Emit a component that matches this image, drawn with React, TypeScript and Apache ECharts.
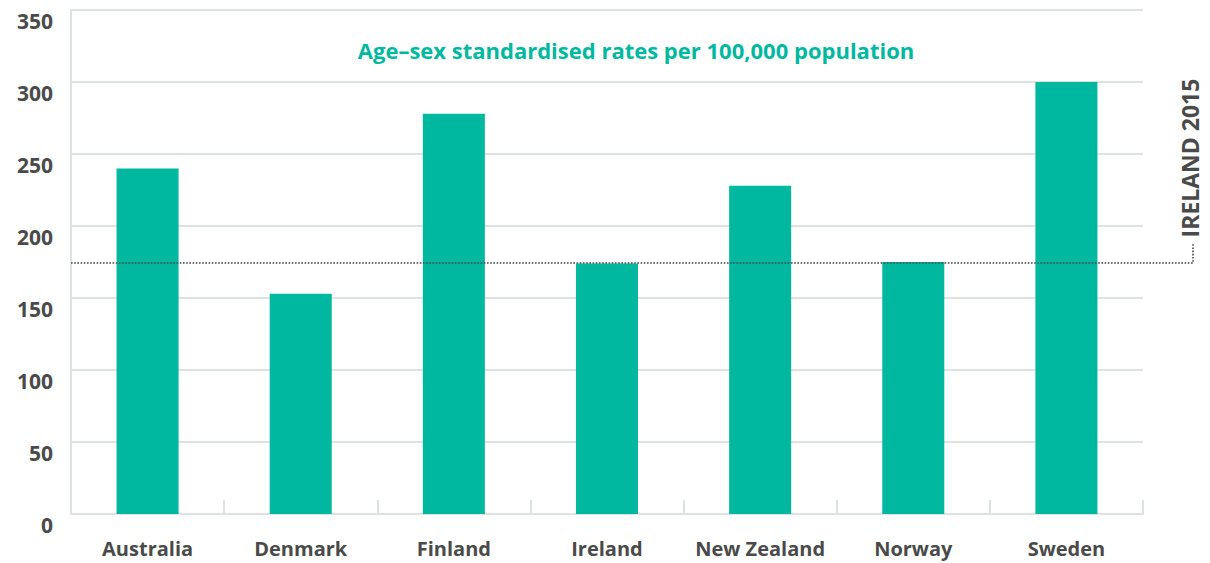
import React, { useEffect, useRef } from "react";
import * as echarts from "echarts";

const categories = ["Australia", "Denmark", "Finland", "Ireland", "New Zealand", "Norway", "Sweden"];
const rates = [240, 153, 278, 174, 228, 175, 300];
const irelandRef = 174.3;
const refLabel = "IRELAND 2015";
const title = "Age\u2013sex standardised rates per 100,000 population";
const yTicks = [0, 50, 100, 150, 200, 250, 300, 350];

const FONT = "Open Sans";
const TEXT = "#4a4a4a";
const GRID = "#dce3e1";
const TEAL = "#00b8a0";

export default function App() {
  const ref = useRef<HTMLDivElement>(null);
  useEffect(() => {
    document.body.style.margin = "0";
    const chart = echarts.init(ref.current!, null, { renderer: "svg" });
    chart.setOption({
      animation: false,
      grid: { left: 71, right: 67, top: 10, bottom: 49, containLabel: false },
      title: {
        text: title,
        left: 631,
        top: 34,
        textAlign: "center",
        textStyle: { color: TEAL, fontFamily: FONT, fontWeight: 700, fontSize: 22 },
      },
      xAxis: {
        type: "category",
        data: categories,
        axisLine: { show: true, lineStyle: { color: GRID, width: 2 } },
        axisTick: { show: true, inside: true, interval: 0, length: 14, lineStyle: { color: GRID, width: 2 } },
        axisLabel: { interval: 0, color: TEXT, fontFamily: FONT, fontWeight: 700, fontSize: 20, margin: 24 },
      },
      yAxis: {
        type: "value",
        min: yTicks[0],
        max: yTicks[yTicks.length - 1],
        interval: 50,
        axisLine: { show: true, lineStyle: { color: GRID, width: 2 } },
        axisTick: { show: false },
        splitLine: { lineStyle: { color: GRID, width: 2 } },
        axisLabel: {
          color: TEXT,
          fontFamily: FONT,
          fontWeight: 700,
          fontSize: 21,
          margin: 18,
          verticalAlign: "top",
          padding: [0, 0, 0, 0],
        },
      },
      series: [
        {
          type: "bar",
          data: rates,
          barWidth: "40.5%",
          itemStyle: { color: TEAL },
        },
      ],
    });
    const y = chart.convertToPixel({ yAxisIndex: 0 }, irelandRef) as number;
    const left = 71;
    const xEnd = 1193;
    chart.setOption({
      graphic: [
        {
          type: "polyline",
          shape: { points: [[left, y], [xEnd, y], [xEnd, y - 19]] },
          style: { stroke: "#444", lineWidth: 1.6, lineDash: [1.6, 1.6], fill: null },
          z: 10,
        },
        {
          type: "text",
          x: 1190,
          y: 158,
          rotation: Math.PI / 2,
          style: {
            text: refLabel,
            fill: TEXT,
            font: `700 23px "${FONT}"`,
            textAlign: "center",
            textVerticalAlign: "middle",
          },
        },
      ],
    });
    return () => chart.dispose();
  }, []);
  return <div ref={ref} style={{ width: 1210, height: 563 }} />;
}
